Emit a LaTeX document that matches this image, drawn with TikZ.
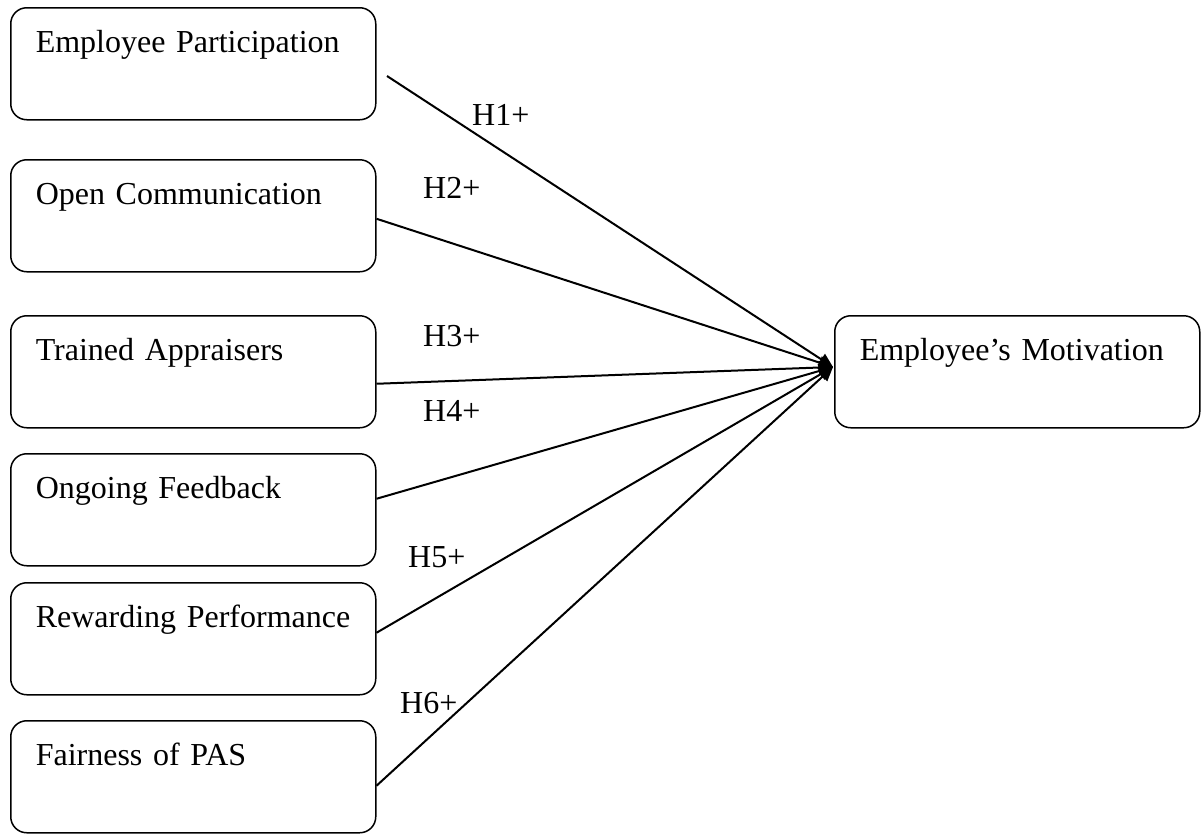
\documentclass[tikz,border=0pt]{standalone}
\usepackage{fontspec}
\setmainfont{Liberation Serif}
\usetikzlibrary{arrows.meta}
\begin{document}
\begin{tikzpicture}[x=1pt,y=-1pt,
  box/.style={draw, line width=1.5pt, rounded corners=16pt, anchor=north west,
    inner xsep=25pt, inner ysep=18pt, text width=315pt, align=left,
    text height=27pt, text depth=49pt, font=\fontsize{32}{38}\selectfont},
  link/.style={line width=2pt, -{Triangle[length=14pt,width=13pt]}},
  hyp/.style={anchor=base west, inner sep=0pt, font=\fontsize{32}{38}\selectfont}]
\useasboundingbox (0,0) rectangle (1201,833);
\node[box] (b1) at (10,7) {Employee Participation};
\node[box] (b2) at (10,159) {Open Communication};
\node[box] (b3) at (10,315) {Trained Appraisers};
\node[box] (b4) at (10,453) {Ongoing Feedback};
\node[box] (b5) at (10,582) {Rewarding Performance};
\node[box] (b6) at (10,720) {Fairness of PAS};
\node[box] (em) at (834,315) {Employee’s Motivation};
\coordinate (tip) at (833,367);
\coordinate (h1s) at (387,76);
\draw[link] (h1s) -- (tip);
\draw[link] ([yshift=-3pt]b2.east) -- (tip);
\draw[link] ([yshift=-12pt]b3.east) -- (tip);
\draw[link] ([yshift=11pt]b4.east) -- (tip);
\draw[link] ([yshift=6pt]b5.east) -- (tip);
\draw[link] ([yshift=-9pt]b6.east) -- (tip);
\node[hyp] (l1) at (472,125) {H1+};
\node[hyp] (l2) at (423,198) {H2+};
\node[hyp] (l3) at (423,346) {H3+};
\node[hyp] (l4) at (423,421) {H4+};
\node[hyp] (l5) at (408,567) {H5+};
\node[hyp] (l6) at (400,713) {H6+};
\end{tikzpicture}
\end{document}
